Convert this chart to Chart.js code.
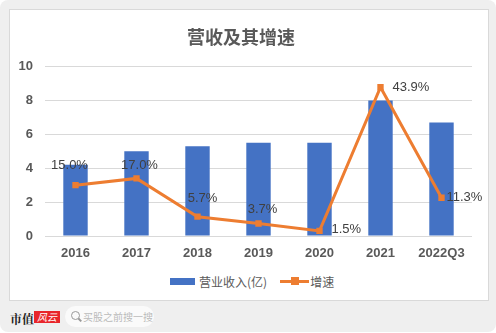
<!DOCTYPE html>
<html><head><meta charset="utf-8">
<script src="https://cdn.jsdelivr.net/npm/chart.js@4/dist/chart.umd.min.js"></script>
<style>
html,body{margin:0;padding:0;background:#fff;width:496px;height:333px;overflow:hidden;font-family:"Liberation Sans","Noto Sans CJK SC",sans-serif;}
#bg{position:absolute;left:0;top:0;width:496px;height:332px;background:#efefef;border-radius:8px;}
#card{position:absolute;left:9px;top:9px;width:478px;height:290px;background:#fff;border:1px solid #d9d9d9;}
.wm{position:absolute;color:rgba(0,0,0,0.025);font-size:34px;font-family:"Noto Sans CJK SC";transform:rotate(-52deg);white-space:nowrap;pointer-events:none;}
#wrap{position:absolute;left:0;top:0;width:496px;height:265px;}
#legend{position:absolute;left:170px;top:273px;height:16px;display:flex;align-items:center;font-family:"Noto Sans CJK SC";font-size:12px;color:#595959;}
#legend .sw1{width:25px;height:7px;background:#4472C4;margin-right:4px;}
#legend .sw2{position:relative;width:29px;height:3px;background:#ED7D31;margin-left:13px;margin-right:1px;}
#legend .sw2 i{position:absolute;left:11px;top:-3px;width:8px;height:8px;background:#ED7D31;}
#footer{position:absolute;left:0;top:303px;width:496px;height:28px;}
#logo1{position:absolute;left:10px;top:7px;font-family:"Noto Serif CJK SC","Noto Sans CJK SC";font-weight:bold;font-size:12px;color:#222;}
#logo2{position:absolute;left:34px;top:8px;width:26px;height:12px;background:#e8262b;color:#fff;font-size:10px;line-height:12px;font-style:italic;text-align:center;font-family:"Noto Sans CJK SC";}
#search{position:absolute;left:65px;top:3px;width:89px;height:21px;border-radius:11px;background:#fafafa;}
#search .ic{position:absolute;left:6px;top:5px;width:7px;height:7px;border:1.5px solid #999;border-radius:50%;}
#search .ic2{position:absolute;left:13px;top:13px;width:4px;height:1.5px;background:#999;transform:rotate(45deg);}
#search span{position:absolute;left:18px;top:3px;font-size:10px;color:#bbb;font-family:"Noto Sans CJK SC";}
</style></head>
<body>
<div id="bg"></div>
<div id="card"></div>
<div class="wm" style="left:-10px;top:80px;">市值风云</div>
<div class="wm" style="left:160px;top:40px;">市值风云</div>
<div class="wm" style="left:320px;top:90px;">市值风云</div>
<div class="wm" style="left:60px;top:230px;">市值风云</div>
<div class="wm" style="left:300px;top:240px;">市值风云</div>
<div id="wrap"><canvas id="c"></canvas></div>
<div id="legend"><div class="sw1"></div><span>营业收入(亿)</span><div class="sw2"><i></i></div><span>增速</span></div>
<div id="footer"><div id="logo1">市值</div><div id="logo2">风云</div><div id="search"><div class="ic"></div><div class="ic2"></div><span>买股之前搜一搜</span></div></div>
<script>
const categories = ["2016","2017","2018","2019","2020","2021","2022Q3"];
const revenue = [4.2, 5.0, 5.3, 5.5, 5.5, 8.0, 6.7];
const growth = [15.0, 17.0, 5.7, 3.7, 1.5, 43.9, 11.3];
const growthLabels = ["15.0%","17.0%","5.7%","3.7%","1.5%","43.9%","11.3%"];
const yTicks = [0, 2, 4, 6, 8, 10];

// label placement (style): [dx, dy, align]
const labelPlace = [[-6,-20,'center'],[3,-13,'center'],[5,-18,'center'],[4,-14,'center'],[12,-1,'left'],[12,0,'left'],[5,0,'left']];

const labelPlugin = {
  id:'pctLabels',
  afterDatasetsDraw(chart){
    const ctx = chart.ctx;
    const meta = chart.getDatasetMeta(1);
    ctx.save();
    ctx.font = '13px "Liberation Sans"';
    ctx.fillStyle = '#404040';
    ctx.textBaseline = 'middle';
    meta.data.forEach((p,i)=>{
      const pl = labelPlace[i];
      ctx.textAlign = pl[2];
      ctx.fillText(growthLabels[i], p.x + pl[0], p.y + pl[1]);
    });
    ctx.restore();
  }
};

new Chart(document.getElementById('c'), {
  data:{
    labels: categories,
    datasets:[
      {type:'bar', label:'营业收入(亿)', data: revenue, backgroundColor:'#4472C4', categoryPercentage:1, barPercentage:0.4, order:1, yAxisID:'y'},
      {type:'line', label:'增速', data: growth, borderColor:'#ED7D31', backgroundColor:'#ED7D31', borderWidth:3, pointStyle:'rect', pointRadius:4.5, pointHoverRadius:4.5, pointBackgroundColor:'#ED7D31', pointBorderWidth:0, tension:0, order:0, yAxisID:'y1'}
    ]
  },
  options:{
    responsive:true, maintainAspectRatio:false, animation:false,
    layout:{padding:{left:10,right:24,top:0,bottom:0}},
    plugins:{
      legend:{display:false}, tooltip:{enabled:false},
      title:{display:true, text:'营收及其增速', color:'#595959', font:{family:'"Noto Sans CJK SC"', size:18, weight:'bold'}, padding:{top:26,bottom:19}}
    },
    scales:{
      x:{afterFit(s){s.height=29;}, grid:{display:false}, border:{display:false}, ticks:{color:'#595959', padding:2, maxRotation:0, font:{family:'"Liberation Sans"', size:13, weight:'bold'}}},
      y:{min:0, max:10, afterFit(s){s.width=35;}, afterBuildTicks(s){s.ticks = yTicks.map(v=>({value:v}));},
         grid:{color:'#d9d9d9', drawTicks:false, lineWidth:1}, border:{display:false},
         ticks:{color:'#595959', padding:12, font:{family:'"Liberation Sans"', size:13, weight:'bold'}}},
      y1:{min:0, max:50, display:false}
    }
  },
  plugins:[labelPlugin]
});
</script>
</body></html>
